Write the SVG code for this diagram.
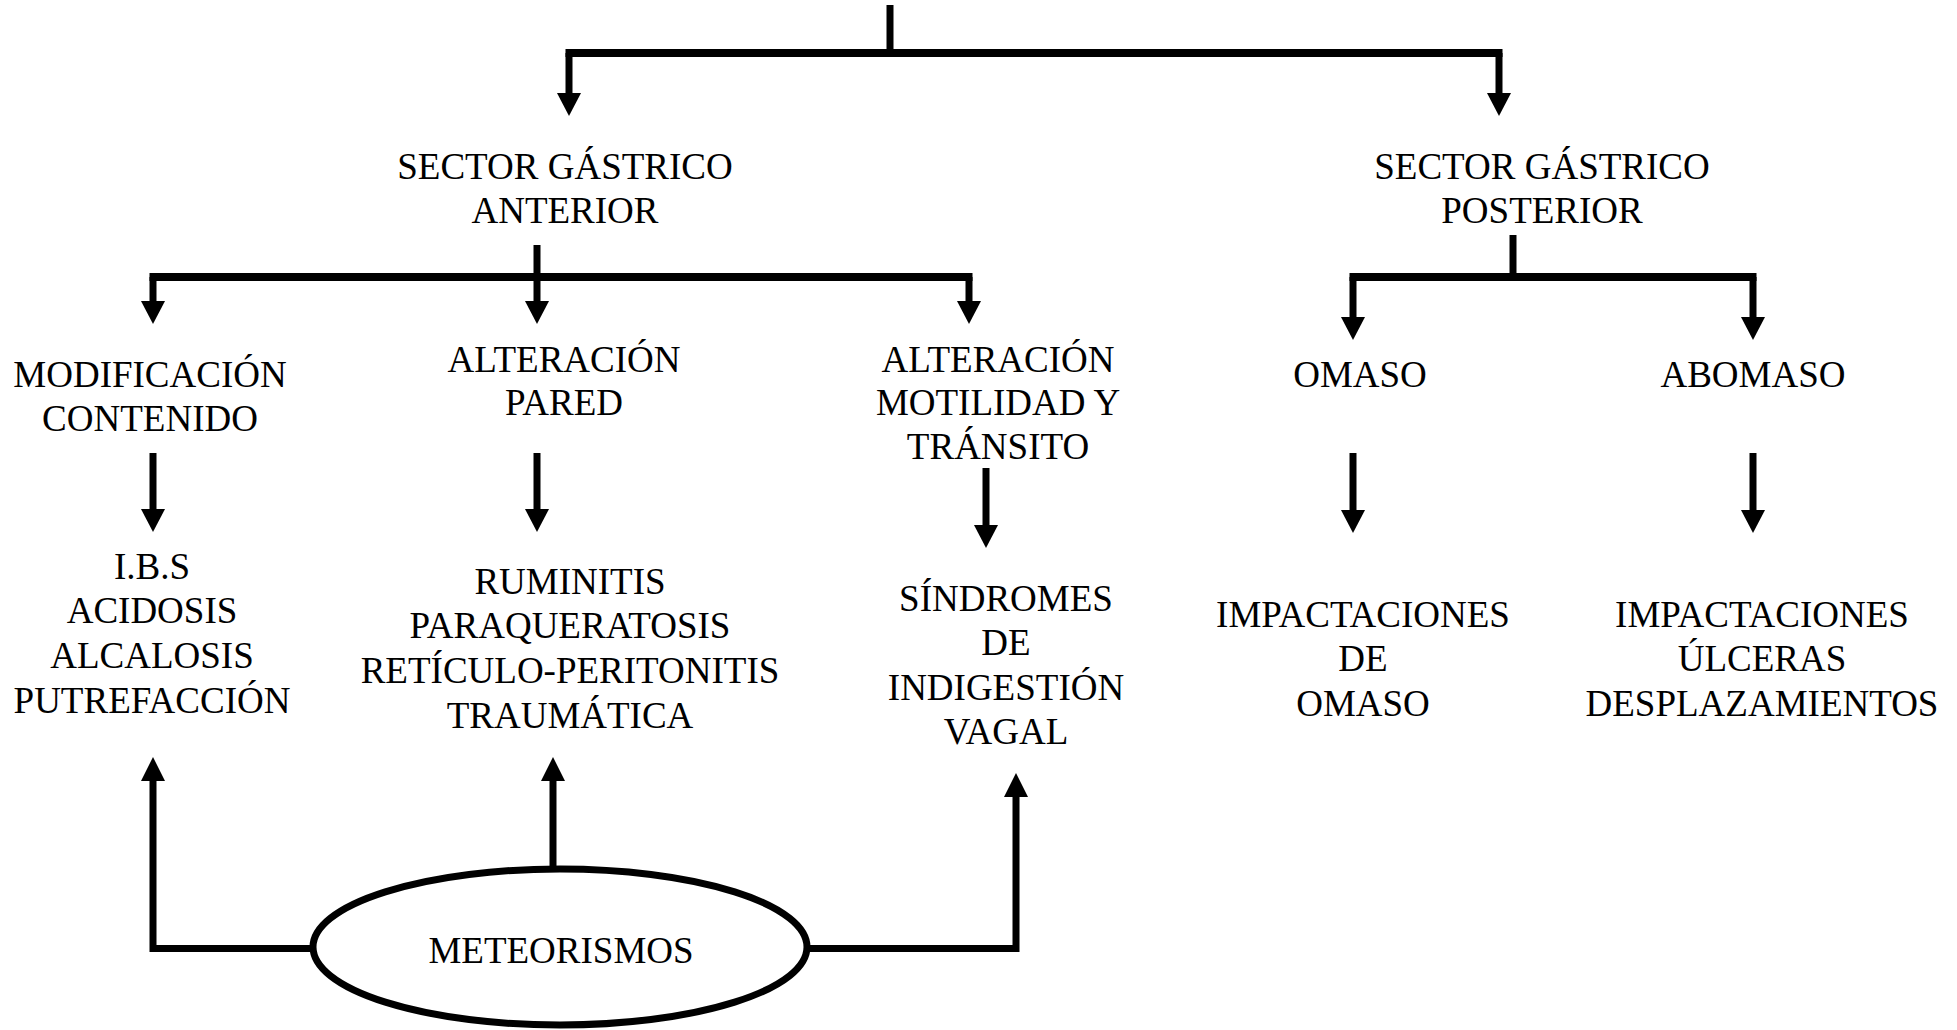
<svg xmlns="http://www.w3.org/2000/svg" xmlns:xlink="http://www.w3.org/1999/xlink" width="1957" height="1030" viewBox="0 0 1957 1030">
<style>
text{font-family:"Liberation Serif","Times New Roman",serif;font-size:37px;fill:#000;text-anchor:middle}
.v{stroke:#000;stroke-width:7;fill:none}
.h{stroke:#000;stroke-width:8;fill:none}
.head{fill:#000}
</style>
<defs>
<path id="dn" class="head" d="M-12,-23 L12,-23 L0,0 Z"/>
<path id="up" class="head" d="M-12,24 L12,24 L0,0 Z"/>
</defs>
<rect width="1957" height="1030" fill="#fff"/>
<g id="connectors">
<line class="v" x1="890" y1="5" x2="890" y2="53"/>
<line class="h" x1="565.5" y1="53" x2="1502.5" y2="53"/>
<line class="v" x1="569" y1="53" x2="569" y2="95"/><use href="#dn" x="569" y="116"/>
<line class="v" x1="1499" y1="53" x2="1499" y2="95"/><use href="#dn" x="1499" y="116"/>

<line class="v" x1="537" y1="245" x2="537" y2="302"/>
<line class="h" x1="149.5" y1="277" x2="972.5" y2="277"/>
<line class="v" x1="153" y1="277" x2="153" y2="302"/><use href="#dn" x="153" y="324"/>
<use href="#dn" x="537" y="324"/>
<line class="v" x1="969" y1="277" x2="969" y2="302"/><use href="#dn" x="969" y="324"/>

<line class="v" x1="1513" y1="235" x2="1513" y2="277"/>
<line class="h" x1="1349.5" y1="277" x2="1756.5" y2="277"/>
<line class="v" x1="1353" y1="277" x2="1353" y2="318"/><use href="#dn" x="1353" y="340"/>
<line class="v" x1="1753" y1="277" x2="1753" y2="318"/><use href="#dn" x="1753" y="340"/>

<line class="v" x1="153" y1="453" x2="153" y2="511"/><use href="#dn" x="153" y="532"/>
<line class="v" x1="537" y1="453" x2="537" y2="511"/><use href="#dn" x="537" y="532"/>
<line class="v" x1="986" y1="468" x2="986" y2="527"/><use href="#dn" x="986" y="548"/>
<line class="v" x1="1353" y1="453" x2="1353" y2="512"/><use href="#dn" x="1353" y="533"/>
<line class="v" x1="1753" y1="453" x2="1753" y2="512"/><use href="#dn" x="1753" y="533"/>

<polyline class="v" points="313,948.5 153,948.5 153,779"/><use href="#up" x="153" y="757"/>
<line class="v" x1="553" y1="870" x2="553" y2="779"/><use href="#up" x="553" y="757"/>
<polyline class="v" points="807,948.5 1016,948.5 1016,795"/><use href="#up" x="1016" y="773"/>
</g>
<g id="sector-anterior"><text x="565" y="179">SECTOR GÁSTRICO</text><text x="565" y="223">ANTERIOR</text></g>
<g id="sector-posterior"><text x="1542" y="179">SECTOR GÁSTRICO</text><text x="1542" y="223">POSTERIOR</text></g>
<g id="modificacion"><text x="150" y="387">MODIFICACIÓN</text><text x="150" y="431">CONTENIDO</text></g>
<g id="alteracion-pared"><text x="564" y="372">ALTERACIÓN</text><text x="564" y="415">PARED</text></g>
<g id="alteracion-motilidad"><text x="998" y="372">ALTERACIÓN</text><text x="998" y="415">MOTILIDAD Y</text><text x="998" y="459">TRÁNSITO</text></g>
<g id="omaso"><text x="1360" y="387">OMASO</text></g>
<g id="abomaso"><text x="1753" y="387">ABOMASO</text></g>
<g id="ibs"><text x="152" y="579">I.B.S</text><text x="152" y="623">ACIDOSIS</text><text x="152" y="668">ALCALOSIS</text><text x="152" y="713">PUTREFACCIÓN</text></g>
<g id="ruminitis"><text x="570" y="594">RUMINITIS</text><text x="570" y="638">PARAQUERATOSIS</text><text x="570" y="683">RETÍCULO-PERITONITIS</text><text x="570" y="728">TRAUMÁTICA</text></g>
<g id="sindromes"><text x="1006" y="611">SÍNDROMES</text><text x="1006" y="655">DE</text><text x="1006" y="700">INDIGESTIÓN</text><text x="1006" y="744">VAGAL</text></g>
<g id="impactaciones-omaso"><text x="1363" y="627">IMPACTACIONES</text><text x="1363" y="671">DE</text><text x="1363" y="716">OMASO</text></g>
<g id="impactaciones-abomaso"><text x="1762" y="627">IMPACTACIONES</text><text x="1762" y="671">ÚLCERAS</text><text x="1762" y="716">DESPLAZAMIENTOS</text></g>
<g id="meteorismos"><ellipse cx="560" cy="947" rx="247" ry="78" fill="#fff" stroke="#000" stroke-width="7"/><text x="561" y="963">METEORISMOS</text></g>
</svg>
